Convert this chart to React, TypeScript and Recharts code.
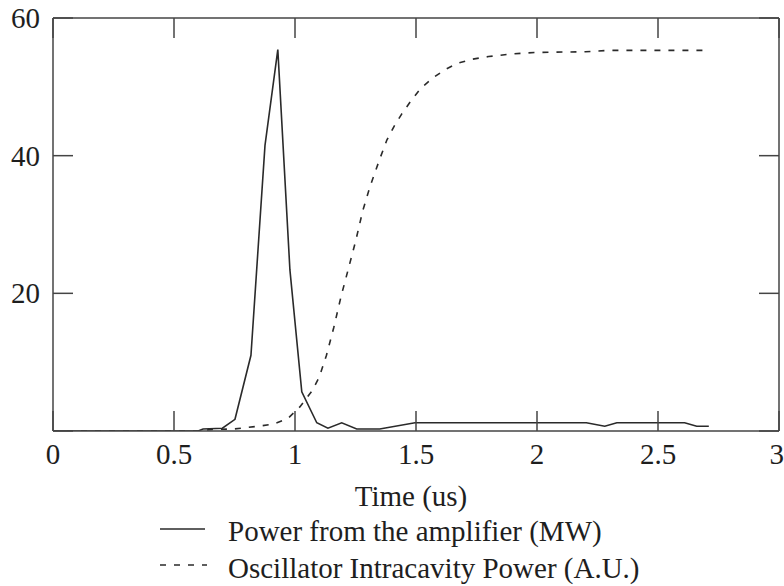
import React from 'react';
import { LineChart, Line, XAxis, YAxis } from 'recharts';

// Time axis (us) and series values
const ampTime = [0, 0.3, 0.6, 0.62, 0.7, 0.752, 0.818, 0.876, 0.929, 0.979, 1.028, 1.09, 1.136, 1.193, 1.255, 1.35, 1.496, 1.7, 2.0, 2.204, 2.28, 2.33, 2.5, 2.61, 2.66, 2.71];
const ampPower = [0, 0, 0, 0.3, 0.4, 1.7, 11, 41.5, 55.4, 23.4, 5.7, 1.2, 0.4, 1.2, 0.3, 0.3, 1.2, 1.2, 1.2, 1.2, 0.7, 1.2, 1.2, 1.2, 0.7, 0.7];

const oscTime = [0, 0.3, 0.6, 0.65, 0.75, 0.85, 0.91, 0.97, 1.02, 1.07, 1.1, 1.13, 1.16, 1.19, 1.22, 1.25, 1.28, 1.31, 1.35, 1.38, 1.41, 1.44, 1.48, 1.52, 1.57, 1.62, 1.67, 1.73, 1.8, 1.9, 2.0, 2.2, 2.3, 2.5, 2.71];
const oscPower = [0, 0, 0, 0.2, 0.3, 0.7, 1.0, 1.8, 3.5, 5.8, 7.8, 11, 15, 19.5, 23.5, 27.5, 32, 35.5, 39.5, 42.3, 44.3, 46, 48, 49.8, 51.3, 52.5, 53.4, 54, 54.4, 54.8, 55, 55.1, 55.3, 55.3, 55.3];

const xTicks = [0, 0.5, 1, 1.5, 2, 2.5, 3];
const yTicks = [0, 20, 40, 60];
const yTickLabels = ['', '20', '40', '60'];
const xLabel = 'Time (us)';
const legendLabels = ['Power from the amplifier (MW)', 'Oscillator Intracavity Power (A.U.)'];

const ampData = ampTime.map((t, i) => ({ t, v: ampPower[i] }));
const oscData = oscTime.map((t, i) => ({ t, v: oscPower[i] }));

const FONT = '"Liberation Serif", "Times New Roman", serif';
const TEXT = '#1e1e1e';
const AXIS = '#444';
const LINE = '#2a2a2a';
const TL = 20;

const BottomTick = (props: any) => {
  const { x, y, payload } = props;
  const last = payload.value === xTicks[xTicks.length - 1];
  return (
    <g>
      <line x1={x} y1={y} x2={x} y2={y - TL} stroke={AXIS} strokeWidth={1.5} />
      <text
        x={last ? x + 5 : x}
        y={y + 33}
        textAnchor={last ? 'end' : 'middle'}
        fontFamily={FONT}
        fontSize={29}
        fill={TEXT}
      >
        {String(payload.value)}
      </text>
    </g>
  );
};

const TopTick = (props: any) => {
  const { x, y } = props;
  return <line x1={x} y1={y} x2={x} y2={y + TL} stroke={AXIS} strokeWidth={1.5} />;
};

const LeftTick = (props: any) => {
  const { x, y, payload, index } = props;
  const idx = yTicks.indexOf(payload.value);
  return (
    <g>
      <line x1={x} y1={y} x2={x + TL} y2={y} stroke={AXIS} strokeWidth={1.5} />
      <text x={x - 13} y={y} dy="0.35em" textAnchor="end" fontFamily={FONT} fontSize={29} fill={TEXT}>
        {yTickLabels[idx >= 0 ? idx : index]}
      </text>
    </g>
  );
};

const RightTick = (props: any) => {
  const { x, y } = props;
  return <line x1={x} y1={y} x2={x - TL} y2={y} stroke={AXIS} strokeWidth={1.5} />;
};

export default function App() {
  return (
    <div style={{ position: 'absolute', left: 0, top: 0, width: 784, height: 586, background: '#fff' }}>
      <LineChart width={784} height={586} margin={{ top: 17, right: 4, left: 0, bottom: 0 }}>
        <XAxis
          xAxisId="bottom"
          type="number"
          dataKey="t"
          domain={[0, 3]}
          ticks={xTicks}
          allowDataOverflow
          height={155}
          tickSize={0}
          tickMargin={0}
          tickLine={false}
          axisLine={{ stroke: AXIS, strokeWidth: 1.5 }}
          tick={<BottomTick />}
          interval={0}
        />
        <XAxis
          xAxisId="top"
          orientation="top"
          type="number"
          dataKey="t"
          domain={[0, 3]}
          ticks={xTicks}
          allowDataOverflow
          height={1}
          tickSize={0}
          tickMargin={0}
          tickLine={false}
          axisLine={{ stroke: AXIS, strokeWidth: 1.5 }}
          tick={<TopTick />}
          interval={0}
        />
        <YAxis
          yAxisId="left"
          type="number"
          domain={[0, 60]}
          ticks={yTicks}
          allowDataOverflow
          width={53}
          tickSize={0}
          tickMargin={0}
          tickLine={false}
          axisLine={{ stroke: AXIS, strokeWidth: 1.5 }}
          tick={<LeftTick />}
          interval={0}
        />
        <YAxis
          yAxisId="right"
          orientation="right"
          type="number"
          domain={[0, 60]}
          ticks={yTicks}
          allowDataOverflow
          width={1}
          tickSize={0}
          tickMargin={0}
          tickLine={false}
          axisLine={{ stroke: AXIS, strokeWidth: 1.5 }}
          tick={<RightTick />}
          interval={0}
        />
        <Line
          xAxisId="bottom"
          yAxisId="left"
          data={ampData}
          dataKey="v"
          type="linear"
          stroke={LINE}
          strokeWidth={1.6}
          dot={false}
          isAnimationActive={false}
        />
        <Line
          xAxisId="top"
          yAxisId="right"
          data={oscData}
          dataKey="v"
          type="linear"
          stroke={LINE}
          strokeWidth={1.6}
          strokeDasharray="6 8"
          dot={false}
          isAnimationActive={false}
        />
      </LineChart>
      <svg width={784} height={586} style={{ position: 'absolute', left: 0, top: 0, pointerEvents: 'none' }}>
        <text x={411} y={506} textAnchor="middle" fontFamily={FONT} fontSize={29} fill={TEXT}>
          {xLabel}
        </text>
        <line x1={160} y1={529} x2={205} y2={529} stroke={LINE} strokeWidth={1.6} />
        <text x={228} y={541} fontFamily={FONT} fontSize={29} fill={TEXT}>
          {legendLabels[0]}
        </text>
        <line x1={160} y1={565} x2={207} y2={565} stroke={LINE} strokeWidth={1.6} strokeDasharray="6 8" />
        <text x={228} y={578} fontFamily={FONT} fontSize={29} fill={TEXT}>
          {legendLabels[1]}
        </text>
      </svg>
    </div>
  );
}
